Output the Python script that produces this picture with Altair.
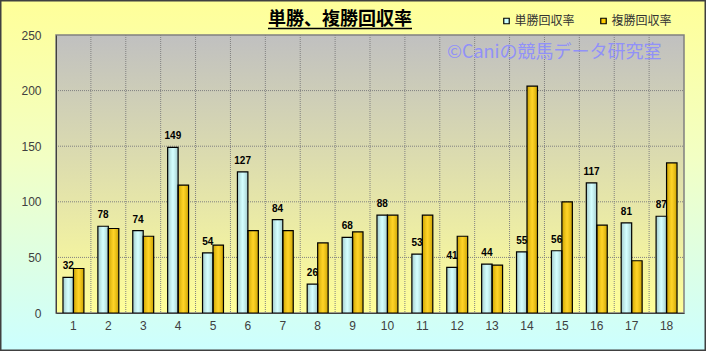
import altair as alt
import pandas as pd

races = list(range(1, 19))
win_rate = [32, 78, 74, 149, 54, 127, 84, 26, 68, 88, 53, 41, 44, 55, 56, 117, 81, 87]
place_rate = [40, 76, 69, 115, 61, 74, 74, 63, 73, 88, 88, 69, 43, 204, 100, 79, 47, 135]
series_names = ["単勝回収率", "複勝回収率"]
series_colors = ["#CCFFFF", "#FFCC00"]
y_ticks = [0, 50, 100, 150, 200, 250]
grid_values = [50, 100, 150, 200]
title_text = "単勝、複勝回収率"
watermark = "©Caniの競馬データ研究室"

W, H = 628, 278
PAD = {"left": 56, "top": 35, "right": 22, "bottom": 38}
STEP = W / len(races)
JP = "Noto Sans CJK JP"

df = pd.DataFrame({
    "race": races * 2,
    "series": [series_names[0]] * len(races) + [series_names[1]] * len(races),
    "value": win_rate + place_rate,
})
win_df = df[df["series"] == series_names[0]]
one = pd.DataFrame({"k": [0]})
vgrid_df = pd.DataFrame({"race": races[1:]})
hgrid_df = pd.DataFrame({"v": grid_values})

xscale = alt.Scale(domain=races, paddingInner=0.4, paddingOuter=0.2)
yscale = alt.Scale(domain=[0, 250], nice=False)
X = alt.X("race:O", scale=xscale, title=None,
          axis=alt.Axis(labelAngle=0, ticks=False, grid=False, domainColor="#404040",
                        labelColor="#404040", labelFontSize=12, labelPadding=7,
                        labelFont="Liberation Sans", zindex=1))
Y = alt.Y("value:Q", scale=yscale, title=None,
          axis=alt.Axis(values=y_ticks, ticks=False, grid=False, domainColor="#404040",
                        labelColor="#404040", labelFontSize=12, labelPadding=15,
                        labelFont="Liberation Sans", zindex=1))
XO = alt.XOffset("series:N", scale=alt.Scale(domain=series_names))

outer = alt.Chart(one).mark_rect(
    fill=alt.LinearGradient(gradient="linear", x1=0, y1=0, x2=0, y2=1,
                            stops=[alt.GradientStop(offset=0, color="#FFFF99"),
                                   alt.GradientStop(offset=0.45, color="#F2FFC4"),
                                   alt.GradientStop(offset=1, color="#CCFFFF")]),
    stroke="#404040", strokeWidth=1.5,
).encode(x=alt.value(-PAD["left"] + 0.75), x2=alt.value(W + PAD["right"] - 0.75),
         y=alt.value(-PAD["top"] + 0.75), y2=alt.value(H + PAD["bottom"] - 0.75))

plotbg = alt.Chart(one).mark_rect(
    fill=alt.LinearGradient(gradient="linear", x1=0, y1=0, x2=0, y2=1,
                            stops=[alt.GradientStop(offset=0, color="#C0C0C0"),
                                   alt.GradientStop(offset=1, color="#FFFF99")]),
    stroke="#808080", strokeWidth=1.5,
).encode(x=alt.value(0), x2=alt.value(W), y=alt.value(0), y2=alt.value(H))

vgrid = alt.Chart(vgrid_df).mark_rule(xOffset=-STEP / 2, strokeDash=[1, 1], color="#808080", strokeWidth=1).encode(
    x=X, y=alt.value(0), y2=alt.value(H))

hgrid = alt.Chart(hgrid_df).mark_rule(strokeDash=[1, 1], color="#808080", strokeWidth=1).encode(
    y=alt.Y("v:Q", scale=yscale, title=None), x=alt.value(0), x2=alt.value(W))

wm = alt.Chart(one).mark_text(text=watermark, font=JP, fontSize=18, color="#8C8CFF", align="left",
                              baseline="middle", opacity=0.9).encode(
    x=alt.value(391), y=alt.value(18))

bars = alt.Chart(df).mark_bar(strokeWidth=0).encode(
    x=X, xOffset=XO, y=Y,
    color=alt.Color("series:N", scale=alt.Scale(domain=series_names, range=series_colors),
                    legend=alt.Legend(title=None, orient="none", legendX=444.5, legendY=-20,
                                      direction="horizontal", symbolType="square", symbolSize=30,
                                      symbolStrokeColor="black", symbolStrokeWidth=1.2,
                                      labelFont=JP, labelFontSize=12, labelColor="#333333",
                                      labelOffset=2, columnPadding=22, padding=0)),
)

shade = alt.Chart(df).mark_bar(
    fill=alt.LinearGradient(gradient="linear", x1=0, y1=0, x2=1, y2=0,
                            stops=[alt.GradientStop(offset=0, color="rgba(0,0,0,0.22)"),
                                   alt.GradientStop(offset=0.5, color="rgba(255,255,255,0.15)"),
                                   alt.GradientStop(offset=1, color="rgba(0,0,0,0.22)")]),
    stroke="black", strokeWidth=1.2,
).encode(x=X, xOffset=XO, y=Y)

labels = alt.Chart(win_df).mark_text(dy=-8, baseline="alphabetic", fontWeight="bold", fontSize=10,
                                     font="Liberation Sans", color="black").encode(
    x=X, xOffset=XO, y=Y, text="value:Q")

title = alt.Chart(one).mark_text(text=title_text, font=JP, fontSize=18, fontWeight="bold",
                                 color="black", align="center", baseline="middle").encode(
    x=alt.value(284), y=alt.value(-15))

underline = alt.Chart(one).mark_rule(color="black", strokeWidth=1.5).encode(
    x=alt.value(212), x2=alt.value(356), y=alt.value(-6.5))

chart = alt.layer(outer, plotbg, vgrid, hgrid, wm, bars, shade, labels, title, underline).properties(
    width=W, height=H,
    autosize=alt.AutoSizeParams(type="none"),
    padding=PAD,
    background="#CCFFFF",
).configure_view(stroke=None)

chart.save("out.html", embed_options={"renderer": "svg", "actions": False})
